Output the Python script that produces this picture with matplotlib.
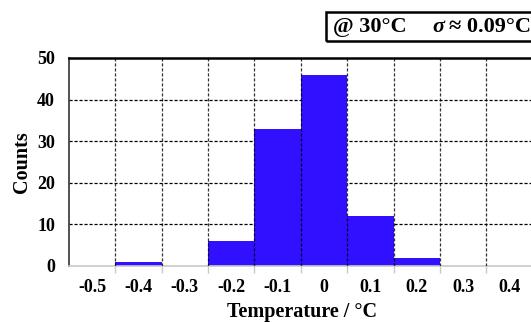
import matplotlib
matplotlib.use("Agg")
import matplotlib.pyplot as plt
from matplotlib.patches import Rectangle
import numpy as np

plt.rcParams['font.family'] = ['Liberation Serif', 'DejaVu Serif']
plt.rcParams['font.weight'] = 'bold'

# Data
categories = [-0.5, -0.4, -0.3, -0.2, -0.1, 0.0, 0.1, 0.2, 0.3, 0.4, 0.5]
counts = [0, 1, 0, 6, 33, 46, 12, 2, 0, 0, 0]
tick_labels = ['-0.5', '-0.4', '-0.3', '-0.2', '-0.1', '0', '0.1', '0.2', '0.3', '0.4', '']
y_ticks = [0, 10, 20, 30, 40, 50]
title_left = '@ 30°C'
title_sigma = 'σ'
title_right = '≈ 0.09°C'

W, H = 531, 322
fig = plt.figure(figsize=(W / 100, H / 100), dpi=100)

# axes extends past the right edge (cropped as in reference)
left, right, top, bottom = 69, 579, 58, 266
ax = fig.add_axes([left / W, 1 - bottom / H, (right - left) / W, (bottom - top) / H])

step = 0.1
ax.bar(categories, counts, width=step, color='#3010FF', edgecolor='none', zorder=2)

ax.set_xlim(categories[0] - step / 2, categories[-1] + step / 2)
ax.set_ylim(0, 50)

ax.set_xticks(categories)
ax.set_xticklabels(tick_labels, fontsize=13, fontweight='bold')
ax.tick_params(axis='x', length=0, pad=9)
ax.set_yticks(y_ticks)
ax.set_yticklabels([str(v) for v in y_ticks], fontsize=13, fontweight='bold')
ax.tick_params(axis='y', length=0, pad=10)

# boundaries between categories
edges = [c + step / 2 for c in categories[:-1]]
ax.set_xticks(edges, minor=True)
ax.tick_params(axis='x', which='minor', length=5, color='#c8c8c8', width=1)

# grid
for yv in y_ticks[1:-1]:
    ax.axhline(yv, color='black', lw=0.9, ls=(0, (2.5, 1.5)), zorder=1)
for xv in edges:
    ax.axvline(xv, color='black', lw=0.9, ls=(0, (2.5, 1.5)), zorder=3, alpha=0.8)

ax.spines['top'].set_linewidth(1.8)
ax.spines['top'].set_color('black')
ax.spines['left'].set_linewidth(1.2)
ax.spines['left'].set_color('#333333')
ax.spines['bottom'].set_color('#c8c8c8')
ax.spines['bottom'].set_linewidth(1.2)
ax.spines['right'].set_visible(False)

ax.set_xlabel('Temperature / °C', fontsize=14.5, fontweight='bold')
ax.xaxis.set_label_coords((302 - left) / (right - left), -(312 - bottom) / (bottom - top))
ax.xaxis.label.set_va('center')
ax.set_ylabel('Counts', fontsize=14.5, fontweight='bold')
ax.yaxis.set_label_coords(-(69 - 22) / (right - left), 0.5)
ax.yaxis.label.set_va('center')

# title box
fig.patches.append(Rectangle((326 / W, 1 - 41 / H), (W + 20 - 326) / W, 29 / H,
                             transform=fig.transFigure, fill=False, lw=1.8,
                             edgecolor='black', clip_on=False))
ty = 1 - 27 / H
fig.text(333 / W, ty, title_left, fontsize=16, fontweight='bold', va='center', ha='left')
fig.text(432 / W, ty, title_sigma, fontsize=16, fontweight='bold', style='italic',
         va='center', ha='left')
fig.text(449 / W, ty, title_right, fontsize=16, fontweight='bold', va='center', ha='left')

fig.savefig('out.png', dpi=100)
